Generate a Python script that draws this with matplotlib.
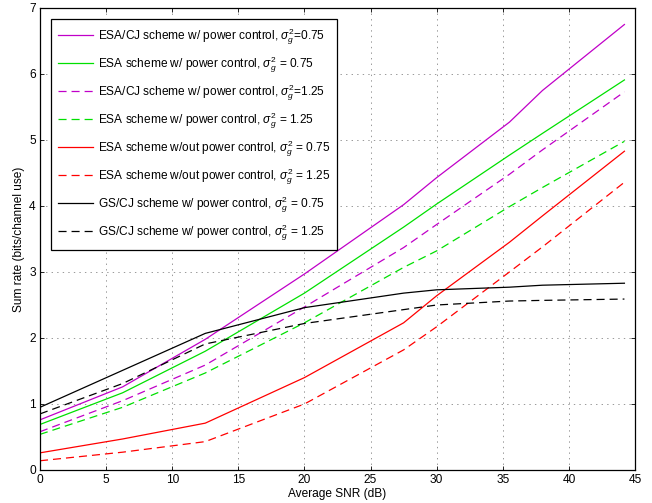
import numpy as np
import matplotlib
matplotlib.use('Agg')
import matplotlib.pyplot as plt

plt.rcParams['font.family'] = ['Liberation Sans', 'DejaVu Sans']
plt.rcParams['mathtext.fontset'] = 'custom'
plt.rcParams['mathtext.rm'] = 'Liberation Sans'
plt.rcParams['mathtext.it'] = 'Liberation Sans:italic'
plt.rcParams['lines.scale_dashes'] = False

# SNR points (dB)
snr = [0, 6.25, 12.5, 20, 27.5, 30, 35.5, 38, 44.2]

# sum rate (bits/channel use)
esa_cj_pc_075 = [0.76, 1.26, 1.98, 2.97, 4.02, 4.43, 5.27, 5.75, 6.75]
esa_pc_075 = [0.69, 1.17, 1.80, 2.68, 3.68, 4.03, 4.77, 5.10, 5.91]
esa_cj_pc_125 = [0.58, 1.05, 1.59, 2.47, 3.37, 3.72, 4.48, 4.85, 5.73]
esa_pc_125 = [0.54, 0.95, 1.47, 2.23, 3.07, 3.32, 3.99, 4.28, 4.98]
esa_nopc_075 = [0.26, 0.47, 0.71, 1.40, 2.23, 2.64, 3.45, 3.85, 4.83]
esa_nopc_125 = [0.14, 0.27, 0.43, 1.00, 1.82, 2.17, 3.00, 3.38, 4.36]
gs_cj_pc_075 = [0.95, 1.51, 2.07, 2.46, 2.68, 2.73, 2.77, 2.80, 2.83]
gs_cj_pc_125 = [0.85, 1.31, 1.91, 2.22, 2.43, 2.50, 2.56, 2.57, 2.59]

labels = [
    r'ESA/CJ scheme w/ power control, $\sigma_g^2$=0.75',
    r'ESA scheme w/ power control, $\sigma_g^2$ = 0.75',
    r'ESA/CJ scheme w/ power control, $\sigma_g^2$=1.25',
    r'ESA scheme w/ power control, $\sigma_g^2$ = 1.25',
    r'ESA scheme w/out power control, $\sigma_g^2$ = 0.75',
    r'ESA scheme w/out power control, $\sigma_g^2$ = 1.25',
    r'GS/CJ scheme w/ power control, $\sigma_g^2$ = 0.75',
    r'GS/CJ scheme w/ power control, $\sigma_g^2$ = 1.25',
]

magenta = '#c000c8'
green = '#00e000'
red = '#ff0000'
black = '#000000'
dash = (0, (5.8, 3.6))
fs = 8.6

fig = plt.figure(figsize=(6.52, 5.03), dpi=100)
ax = fig.add_axes([40 / 652, 1 - 470 / 503, 595 / 652, 462 / 503])

lw = 0.9
ax.plot(snr, esa_cj_pc_075, '-', color=magenta, lw=lw, label=labels[0])
ax.plot(snr, esa_pc_075, '-', color=green, lw=lw, label=labels[1])
ax.plot(snr, esa_cj_pc_125, linestyle=dash, color=magenta, lw=lw, label=labels[2])
ax.plot(snr, esa_pc_125, linestyle=dash, color=green, lw=lw, label=labels[3])
ax.plot(snr, esa_nopc_075, '-', color=red, lw=lw, label=labels[4])
ax.plot(snr, esa_nopc_125, linestyle=dash, color=red, lw=lw, label=labels[5])
ax.plot(snr, gs_cj_pc_075, '-', color=black, lw=lw, label=labels[6])
ax.plot(snr, gs_cj_pc_125, linestyle=dash, color=black, lw=lw, label=labels[7])

ax.set_xlim(0, 45)
ax.set_ylim(0, 7)
ax.set_xticks(np.arange(0, 46, 5))
ax.set_yticks(np.arange(0, 8, 1))
ax.tick_params(direction='in', top=True, right=True, labelsize=fs, length=3, width=0.6, pad=3)
ax.grid(True, linestyle=(0, (1, 3)), color='#888888', lw=0.6)
for s in ax.spines.values():
    s.set_linewidth(0.9)

ax.set_xlabel('Average SNR (dB)', fontsize=fs, labelpad=1)
ax.set_ylabel('Sum rate (bits/channel use)', fontsize=fs, labelpad=3)

leg = ax.legend(loc='upper left', bbox_to_anchor=(10.7 / 595, 1 - 11.3 / 462), fontsize=fs,
                frameon=True, fancybox=False, handlelength=2.9, handletextpad=0.45,
                labelspacing=0.62, borderpad=0.6, borderaxespad=0)
leg.get_frame().set_edgecolor('black')
leg.get_frame().set_linewidth(0.9)
leg.get_frame().set_alpha(1)

fig.savefig('out.png', dpi=100)
